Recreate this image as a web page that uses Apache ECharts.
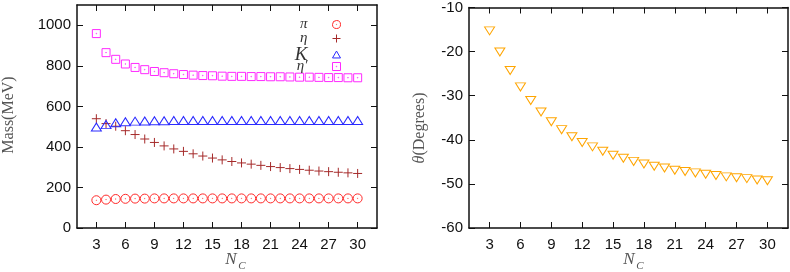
<!DOCTYPE html>
<html><head><meta charset="utf-8">
<script src="https://cdn.jsdelivr.net/npm/echarts@6/dist/echarts.min.js"></script>
<style>html,body{margin:0;padding:0;background:#fff}#c{width:790px;height:272px}</style>
</head><body><div id="c"></div>
<script>
const NC = [3,4,5,6,7,8,9,10,11,12,13,14,15,16,17,18,19,20,21,22,23,24,25,26,27,28,29,30];
const xTicks = [3,6,9,12,15,18,21,24,27,30];
const massTicks = [0,200,400,600,800,1000];
const thetaTicks = [-60,-50,-40,-30,-20,-10];
const seriesNames = ['π','η','K','η′'];
const pion = [137,140,143,144,145,145,146,146,146,146,146,146,146,146,146,146,146,146,146,146,146,146,146,146,146,146,146,146];
const eta = [539,515,502,480,461,439,422,405,390,378,366,355,345,336,328,321,315,309,303,298,293,289,285,281,278,275,272,269];
const kaon = [498,510,519,524,527,528,529,529,530,530,530,530,530,530,530,530,530,530,530,530,530,530,530,530,530,530,530,530];
const etaPrime = [959,865,832,809,792,781,772,766,761,757,754,752,751,749,748,748,747,747,746,746,745,744,744,743,742,742,741,741];
const theta = [-15.3,-20.1,-24.3,-28.0,-31.1,-33.7,-35.9,-37.7,-39.3,-40.6,-41.6,-42.6,-43.5,-44.2,-44.9,-45.5,-46.0,-46.4,-46.9,-47.2,-47.5,-47.8,-48.1,-48.4,-48.6,-48.8,-49.1,-49.3];

const INK = '#111';
const SANS = 'Liberation Sans';
const SERIF = 'Liberation Serif';

const circPath = 'path://M10,1A9,9 0 1 1 9.99,1Z M10,9.6A0.4,0.4 0 1 1 9.99,9.6Z';
const plusPath = 'path://M0,5L10,5M5,0L5,10';
const triUpPath = 'path://M5,0L10,8.66L0,8.66Z';
const squarePath = 'path://M0,0L10,0L10,10L0,10Z M5,4.6A0.4,0.4 0 1 1 4.99,4.6Z';
const triDownPath = 'path://M0,0L10,0L5,8.66Z';

function xAx(grid, pos, labels) {
  return {
    gridIndex: grid, type: 'value', min: 1, max: 32, position: pos,
    axisLine: {show: true, onZero: false, lineStyle: {color: INK, width: 1.5}},
    axisTick: {show: true, inside: true, length: 6, customValues: xTicks, lineStyle: {color: INK, width: 1}},
    axisLabel: {show: labels, customValues: xTicks, margin: 9, fontSize: 15, color: INK, fontFamily: SANS,
      formatter: v => String(v)},
    splitLine: {show: false}
  };
}
function yAx(grid, pos, labels, mn, mx, ticks) {
  return {
    gridIndex: grid, type: 'value', min: mn, max: mx, position: pos,
    axisLine: {show: true, onZero: false, lineStyle: {color: INK, width: 1.5}},
    axisTick: {show: true, inside: true, length: 6, customValues: ticks, lineStyle: {color: INK, width: 1}},
    axisLabel: {show: labels, customValues: ticks, margin: 6, fontSize: 15, color: INK, fontFamily: SANS,
      formatter: v => String(v)},
    splitLine: {show: false}
  };
}
function sc(name, xi, yi, vals, symbol, size, color) {
  return {
    type: 'scatter', name: name, xAxisIndex: xi, yAxisIndex: yi,
    data: NC.map((x, i) => [x, vals[i]]),
    symbol: symbol, symbolSize: size,
    itemStyle: {color: 'none', borderColor: color, borderWidth: 1, opacity: 1},
    emphasis: {disabled: true}, silent: true
  };
}
const legendRows = [21, 35, 49, 63];
function leg(i) {
  const big = seriesNames[i] === 'K';
  return {
    data: [seriesNames[i]], orient: 'vertical', right: 447, top: legendRows[i] - 4, padding: 0,
    align: 'right', itemWidth: 8, itemHeight: 8, selectedMode: false,
    itemStyle: {borderWidth: 1},
    textStyle: {
      width: 16, align: 'right', padding: [0, 20, 0, 0], color: '#333',
      fontFamily: SERIF + ', "DejaVu Serif"', fontStyle: 'italic', fontSize: big ? 19 : 15
    }
  };
}

const chart = echarts.init(document.getElementById('c'), null, {renderer: 'canvas'});
chart.setOption({
  animation: false,
  backgroundColor: '#fff',
  grid: [
    {left: 77, top: 5, width: 300, height: 223},
    {left: 469, top: 5, width: 319, height: 223}
  ],
  xAxis: [xAx(0, 'bottom', true), xAx(0, 'top', false), xAx(1, 'bottom', true), xAx(1, 'top', false)],
  yAxis: [
    yAx(0, 'left', true, 0, 1100, massTicks), yAx(0, 'right', false, 0, 1100, massTicks),
    yAx(1, 'left', true, -60, -10, thetaTicks), yAx(1, 'right', false, -60, -10, thetaTicks)
  ],
  legend: [leg(0), leg(1), leg(2), leg(3)],
  series: [
    sc(seriesNames[0], 0, 0, pion, circPath, 9, '#ff2a2a'),
    sc(seriesNames[1], 0, 0, eta, plusPath, 9, '#a52a2a'),
    sc(seriesNames[2], 0, 0, kaon, triUpPath, [10, 8], '#2a2aff'),
    sc(seriesNames[3], 0, 0, etaPrime, squarePath, 8, '#ff2aff'),
    sc('θ', 2, 2, theta, triDownPath, [10, 8], '#ffa500')
  ],
  graphic: [
    {type: 'text', x: 9, y: 115, rotation: Math.PI / 2,
     style: {text: 'Mass(MeV)', font: '16px "Liberation Serif"', fill: '#555', align: 'center', verticalAlign: 'middle'}},
    {type: 'text', x: 420, y: 128, rotation: Math.PI / 2,
     style: {text: '{i|θ}(Degrees)', font: '16px "Liberation Serif"', fill: '#555', align: 'center', verticalAlign: 'middle',
       rich: {i: {fontFamily: SERIF, fontStyle: 'italic', fontSize: 16, fill: '#555'}}}},
    {type: 'text', x: 231, y: 260, style: {text: 'N', font: 'italic 17px "Liberation Serif"', fill: '#555', align: 'center', verticalAlign: 'middle'}},
    {type: 'text', x: 242, y: 266, style: {text: 'C', font: 'italic 11px "Liberation Serif"', fill: '#555', align: 'center', verticalAlign: 'middle'}},
    {type: 'text', x: 629, y: 260, style: {text: 'N', font: 'italic 17px "Liberation Serif"', fill: '#555', align: 'center', verticalAlign: 'middle'}},
    {type: 'text', x: 640, y: 266, style: {text: 'C', font: 'italic 11px "Liberation Serif"', fill: '#555', align: 'center', verticalAlign: 'middle'}}
  ]
});
</script>
</body></html>
